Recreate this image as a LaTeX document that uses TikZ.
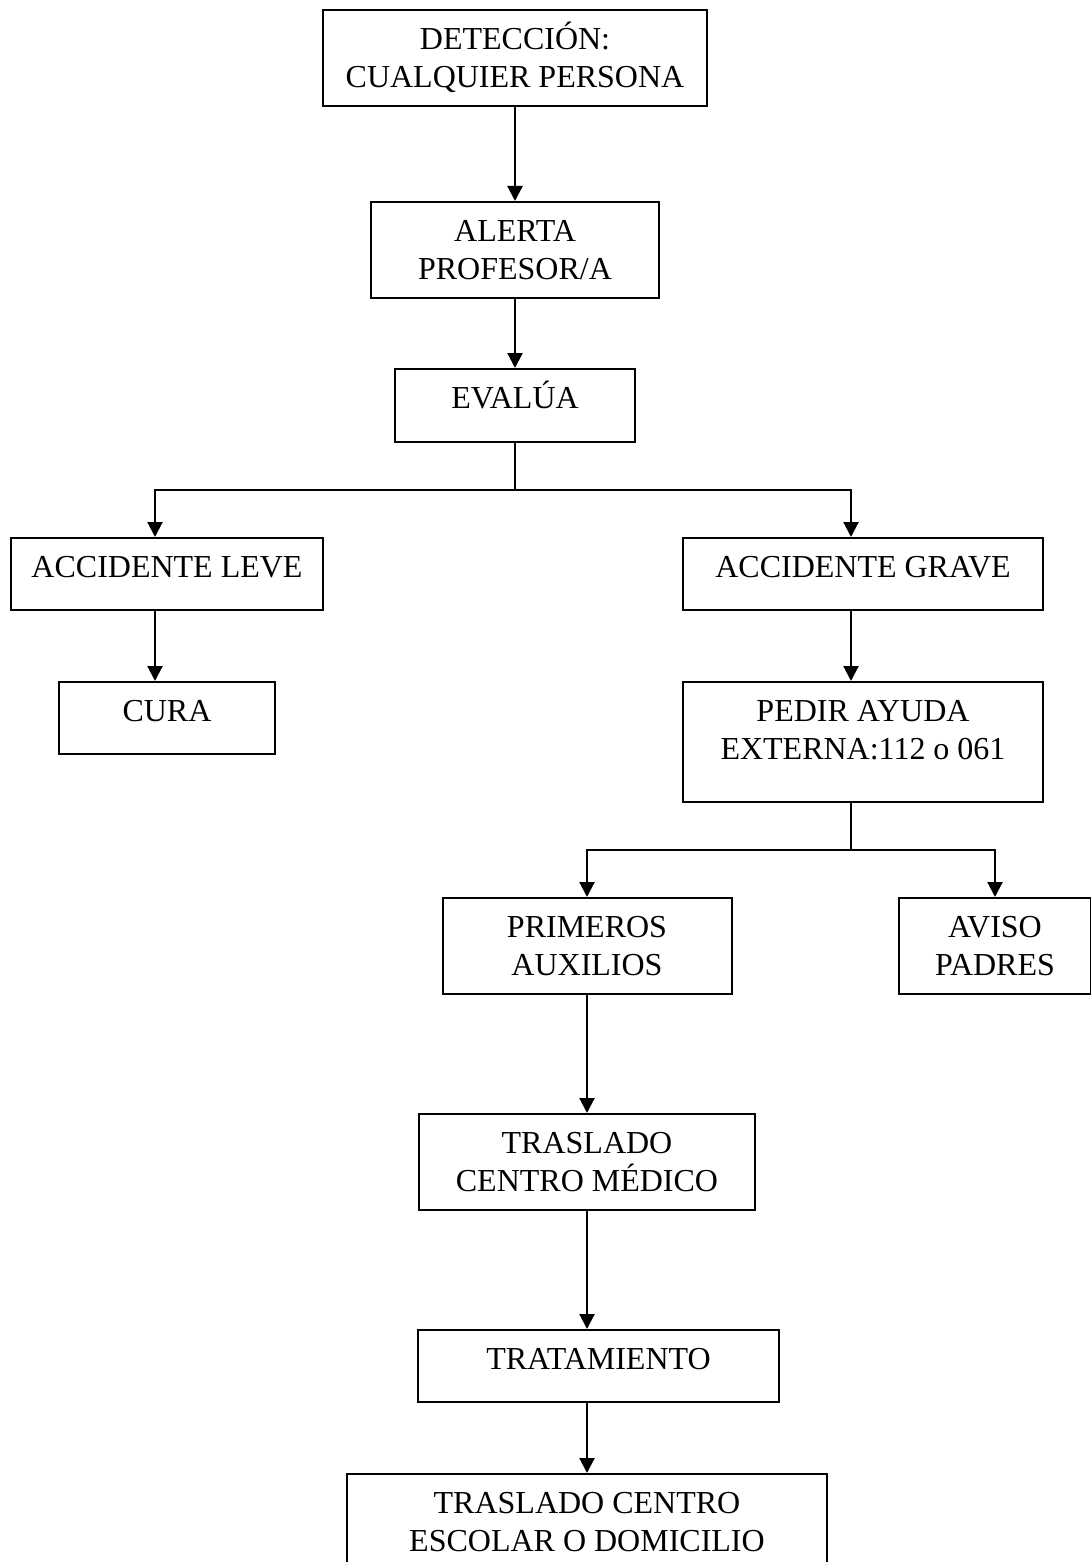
\documentclass[tikz,border=0pt]{standalone}
\usepackage{fontspec}
\setmainfont{Liberation Serif}
\usetikzlibrary{arrows.meta}
\newcommand{\boxcontent}[3]{\parbox[c][#2][t]{#1}{\centering\rule{0pt}{39.5pt}#3}}
\begin{document}
\begin{tikzpicture}[x=1pt,y=-1pt,
  box/.style={draw, line width=2pt, inner sep=0pt, font=\fontsize{32}{38}\selectfont},
  conn/.style={line width=2.2pt, line join=miter},
  arr/.style={conn, -{Triangle[width=15pt,length=15pt]}}]
\useasboundingbox (0,0) rectangle (1091,1562);
\fill[white] (0,0) rectangle (1091,1562);
% boxes
\node[box] (det)   at (515,58)      {\boxcontent{384pt}{96pt}{DETECCIÓN:\\CUALQUIER PERSONA}};
\node[box] (alert) at (515,250)     {\boxcontent{288pt}{96pt}{ALERTA\\PROFESOR/A}};
\node[box] (eval)  at (515,405.5)   {\boxcontent{240pt}{73pt}{EVALÚA}};
\node[box] (leve)  at (167,574)     {\boxcontent{312pt}{72pt}{ACCIDENTE LEVE}};
\node[box] (grave) at (863,574)     {\boxcontent{360pt}{72pt}{ACCIDENTE GRAVE}};
\node[box] (cura)  at (167,718)     {\boxcontent{216pt}{72pt}{CURA}};
\node[box] (pedir) at (863,742)     {\boxcontent{360pt}{120pt}{PEDIR AYUDA\\EXTERNA:112 o 061}};
\node[box] (prim)  at (587,946)     {\boxcontent{289pt}{96pt}{PRIMEROS\\AUXILIOS}};
\node[box] (aviso) at (995,946)     {\boxcontent{192pt}{96pt}{AVISO\\PADRES}};
\node[box] (tras)  at (587,1162)    {\boxcontent{336pt}{96pt}{TRASLADO\\CENTRO MÉDICO}};
\node[box] (trat)  at (598.5,1366)  {\boxcontent{361pt}{72pt}{TRATAMIENTO}};
\node[box] (fin)   at (587,1532)    {\boxcontent{480pt}{116pt}{TRASLADO CENTRO\\ESCOLAR O DOMICILIO}};
% junctions
\coordinate (j1) at (515,490);
\coordinate (j2) at (851,850);
% connectors
\draw[arr] (det.south) -- (det.south |- alert.north);
\draw[arr] (alert.south) -- (alert.south |- eval.north);
\draw[conn] (eval.south) -- (j1);
\draw[arr] (j1) -| ([xshift=-12pt]leve.north);
\draw[arr] (j1) -| ([xshift=-12pt]grave.north);
\draw[arr] ([xshift=-12pt]leve.south) -- ([xshift=-12pt]cura.north);
\draw[arr] ([xshift=-12pt]grave.south) -- ([xshift=-12pt]pedir.north);
\draw[conn] ([xshift=-12pt]pedir.south) -- (j2);
\draw[arr] (j2) -| (prim.north);
\draw[arr] (j2) -| (aviso.north);
\draw[arr] (prim.south) -- (prim.south |- tras.north);
\draw[arr] (tras.south) -- (tras.south |- trat.north);
\draw[arr] (fin.north |- trat.south) -- (fin.north);
\end{tikzpicture}
\end{document}
